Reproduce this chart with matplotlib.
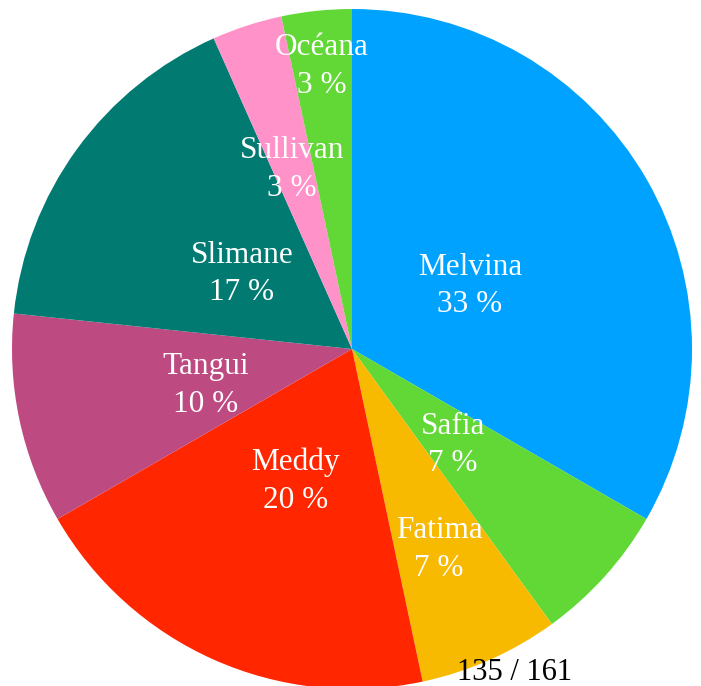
import matplotlib
matplotlib.use("Agg")
import matplotlib.pyplot as plt
import numpy as np

names = ["Melvina", "Safia", "Fatima", "Meddy", "Tangui", "Slimane", "Sullivan", "Océana"]
counts = [10, 2, 2, 6, 3, 5, 1, 1]
pct_labels = ["33 %", "7 %", "7 %", "20 %", "10 %", "17 %", "3 %", "3 %"]
colors = ["#00A2FF", "#61D836", "#F8BA00", "#FF2600", "#BE4A82", "#017B72", "#FF92C9", "#61D836"]
label_radius = [0.40, 0.40, 0.63, 0.41, 0.44, 0.40, 0.57, 0.85]
footer = "135 / 161"

plt.rcParams['font.family'] = ['Liberation Serif', 'DejaVu Serif']

fig = plt.figure(figsize=(7.01, 6.86), dpi=100)
W, H = 701, 686
cx, cy, r = 352, 349, 340
ax = fig.add_axes([(cx - r) / W, (H - cy - r) / H, 2 * r / W, 2 * r / H])
wedges, _ = ax.pie(counts, colors=colors, startangle=90, counterclock=False,
                   radius=1, wedgeprops=dict(linewidth=0))
ax.set_xlim(-1, 1)
ax.set_ylim(-1, 1)
ax.set_aspect('equal')
ax.axis('off')

dy_shift = -5 / r
for w, n, p, lr in zip(wedges, names, pct_labels, label_radius):
    ang = np.deg2rad((w.theta1 + w.theta2) / 2)
    x, y = lr * np.cos(ang), lr * np.sin(ang) + dy_shift
    ax.text(x, y, f"{n}\n{p}", ha='center', va='center', color='white',
            fontsize=22.5, linespacing=1.4)

fig.text(515 / W, (H - 680) / H, footer, ha='center', va='baseline',
         fontsize=22, color='black')

fig.savefig("out.png", dpi=100)
